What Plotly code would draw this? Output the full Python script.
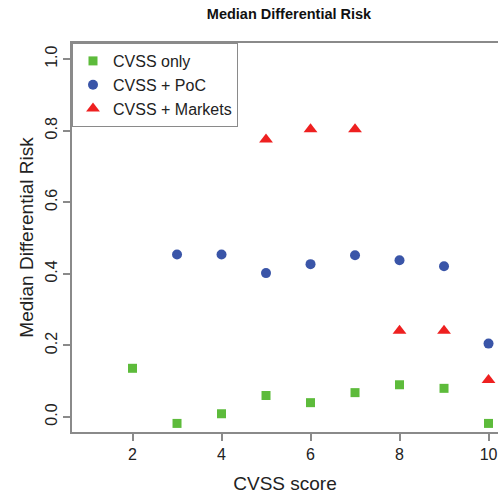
import plotly.graph_objects as go

cvss = [2, 3, 4, 5, 6, 7, 8, 9, 10]
cvss_only = [0.136, -0.018, 0.009, 0.060, 0.040, 0.068, 0.090, 0.080, -0.018]
poc_x = [3, 4, 5, 6, 7, 8, 9, 10]
cvss_poc = [0.454, 0.454, 0.402, 0.427, 0.452, 0.438, 0.421, 0.205]
mkt_x = [5, 6, 7, 8, 9, 10]
cvss_markets = [0.775, 0.804, 0.804, 0.241, 0.241, 0.103]

x_ticks = [2, 4, 6, 8, 10]
y_ticks = [0.0, 0.2, 0.4, 0.6, 0.8, 1.0]
y_labels = ["0.0", "0.2", "0.4", "0.6", "0.8", "1.0"]

FONT = "Liberation Sans, Arial, sans-serif"
AX = "#8a8a8a"

fig = go.Figure()
fig.add_trace(go.Scatter(x=cvss, y=cvss_only, mode="markers", name="CVSS only",
                         marker=dict(symbol="square", size=9, color="#5dbb3b"),
                         cliponaxis=False))
fig.add_trace(go.Scatter(x=poc_x, y=cvss_poc, mode="markers", name="CVSS + PoC",
                         marker=dict(symbol="circle", size=10, color="#3a55a8"),
                         cliponaxis=False))
fig.add_trace(go.Scatter(x=mkt_x, y=cvss_markets, mode="markers", name="CVSS + Markets",
                         marker=dict(symbol="triangle-up", size=12, color="#ee2020"),
                         cliponaxis=False))

fig.update_layout(
    width=498, height=494,
    margin=dict(l=72, r=0, t=43, b=62, autoexpand=False),
    paper_bgcolor="white", plot_bgcolor="white",
    font=dict(family=FONT, size=16, color="#222222"),
    title=dict(text="<b>Median Differential Risk</b>", x=289 / 498, xanchor="center",
               y=1 - 14 / 494, yanchor="middle", font=dict(size=14.5, color="#111111")),
    showlegend=True,
    legend=dict(x=0, y=1, xanchor="left", yanchor="top", bgcolor="white",
                bordercolor=AX, borderwidth=1, font=dict(size=16, color="#222222"),
                tracegroupgap=0, itemwidth=30),
    xaxis=dict(range=[0.64, 0.64 + 426 / 44.5], tickvals=x_ticks, ticks="outside",
               ticklen=7, tickcolor=AX, tickwidth=1.5, showline=True, linecolor=AX,
               linewidth=2, mirror=True, showgrid=False, zeroline=False,
               title=dict(text="CVSS score", standoff=18)),
    yaxis=dict(range=[-0.042, 1.045], tickvals=y_ticks, ticktext=y_labels, ticks="outside",
               ticklen=7, tickcolor=AX, tickwidth=1.5, showline=True, linecolor=AX,
               linewidth=2, showgrid=False, zeroline=False, tickangle=-90,
               title=dict(text="Median Differential Risk", standoff=4)),
)

fig.write_html("out.html", config={"displayModeBar": False},
               post_script="document.body.style.margin='0';document.body.style.overflow='hidden';")
